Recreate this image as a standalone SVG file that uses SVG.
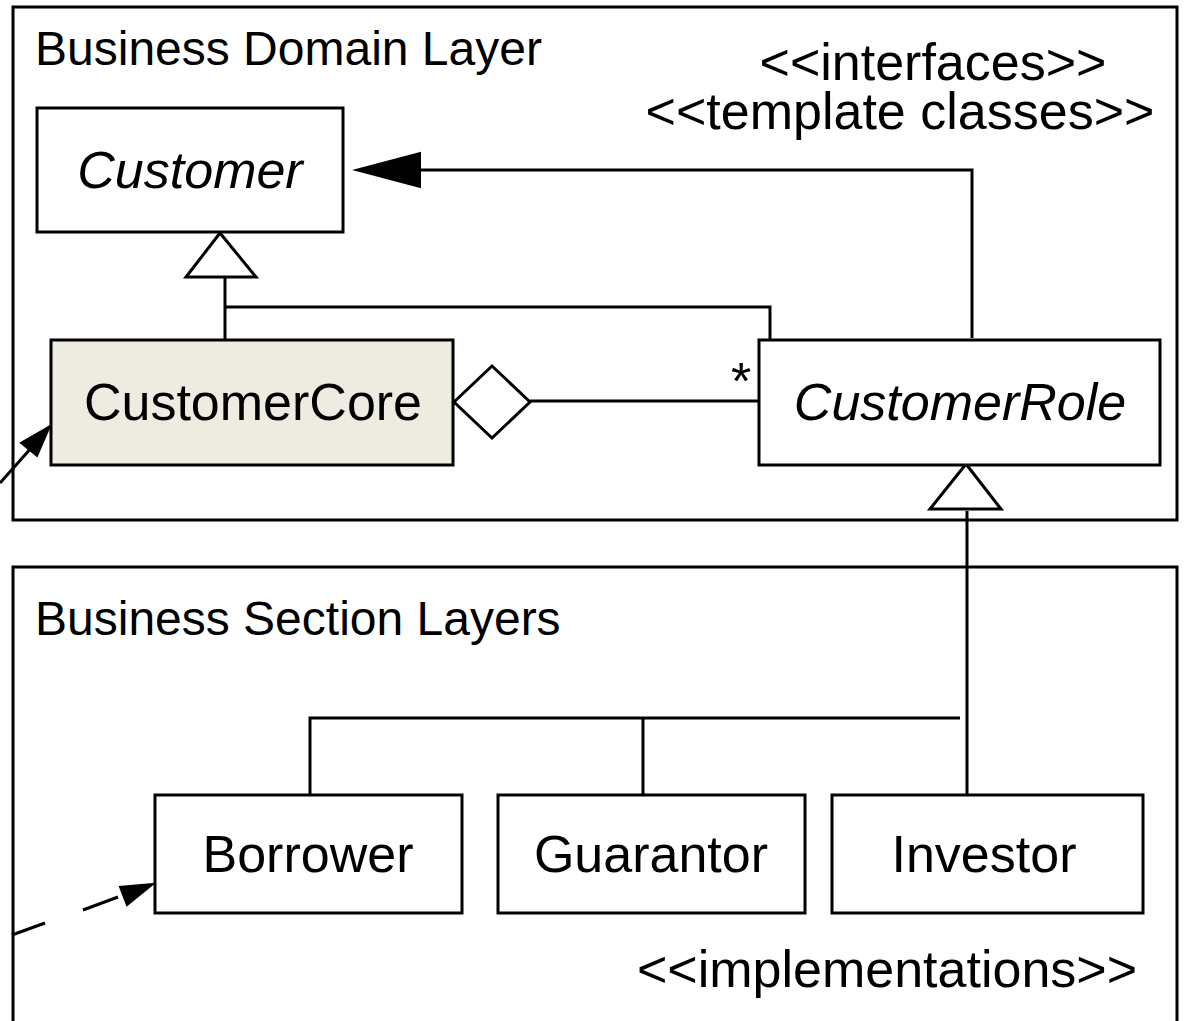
<svg xmlns="http://www.w3.org/2000/svg" width="1187" height="1021" viewBox="0 0 1187 1021">
<defs>
<style>
.frame{fill:#fff;stroke:#000;stroke-width:3}
.box{fill:#fff;stroke:#000;stroke-width:3}
.core{fill:#eeece1;stroke:#000;stroke-width:3}
.ln{fill:none;stroke:#000;stroke-width:3}
.t{font-family:"Liberation Sans",Arial,sans-serif;font-size:52px;fill:#000}
.tl{font-family:"Liberation Sans",Arial,sans-serif;font-size:48px;fill:#000}
.i{font-style:italic}
.hollow{fill:#fff;stroke:#000;stroke-width:3}
.solid{fill:#000;stroke:#000;stroke-width:2}
</style>
</defs>
<rect width="1187" height="1021" fill="#fff"/>
<g id="domain-layer">
<rect class="frame" x="13" y="7" width="1164" height="513"/>
<text class="tl" x="35" y="65">Business Domain Layer</text>
<text class="t" x="933" y="80" text-anchor="middle">&lt;&lt;interfaces&gt;&gt;</text>
<text class="t" x="900" y="129" text-anchor="middle">&lt;&lt;template classes&gt;&gt;</text>
</g>
<g id="section-layer">
<rect class="frame" x="13" y="567" width="1164" height="470"/>
<text class="tl" x="35" y="635">Business Section Layers</text>
<text class="t" x="887" y="987" text-anchor="middle">&lt;&lt;implementations&gt;&gt;</text>
</g>
<g id="connectors">
<polyline class="ln" points="972,338 972,170 418,170"/>
<polygon class="solid" points="356,170 420,153 420,187"/>
<line class="ln" x1="225" y1="278" x2="225" y2="342"/>
<polygon class="hollow" points="220,233 186,277 256,277"/>
<polyline class="ln" points="225,307 770,307 770,340"/>
<line class="ln" x1="530" y1="401" x2="758" y2="401"/>
<polygon class="hollow" points="454,402 492,366 530,402 492,438"/>
<text class="t" x="741" y="399" text-anchor="middle">*</text>
<polygon class="hollow" points="966,464 930,509 1001,509"/>
<line class="ln" x1="967" y1="511" x2="967" y2="797"/>
<polyline class="ln" points="310,795 310,718 960,718"/>
<line class="ln" x1="643" y1="718" x2="643" y2="795"/>
<line class="ln" x1="0" y1="483" x2="32" y2="447"/>
<polygon class="solid" points="50,426 21,443 37,456"/>
<line class="ln" x1="12" y1="935" x2="45" y2="923"/>
<line class="ln" x1="83" y1="910" x2="118" y2="897"/>
<polygon class="solid" points="153,884 120,887 127,905"/>
</g>
<g id="Customer">
<rect class="box" x="37" y="108" width="306" height="124"/>
<text class="t i" x="190" y="188" text-anchor="middle">Customer</text>
</g>
<g id="CustomerCore">
<rect class="core" x="51" y="340" width="402" height="125"/>
<text class="t" x="253" y="420" text-anchor="middle">CustomerCore</text>
</g>
<g id="CustomerRole">
<rect class="box" x="759" y="340" width="401" height="125"/>
<text class="t i" x="960" y="420" text-anchor="middle">CustomerRole</text>
</g>
<g id="Borrower">
<rect class="box" x="155" y="795" width="307" height="118"/>
<text class="t" x="308" y="872" text-anchor="middle">Borrower</text>
</g>
<g id="Guarantor">
<rect class="box" x="498" y="795" width="307" height="118"/>
<text class="t" x="651" y="872" text-anchor="middle">Guarantor</text>
</g>
<g id="Investor">
<rect class="box" x="832" y="795" width="311" height="118"/>
<text class="t" x="984" y="872" text-anchor="middle">Investor</text>
</g>
</svg>
